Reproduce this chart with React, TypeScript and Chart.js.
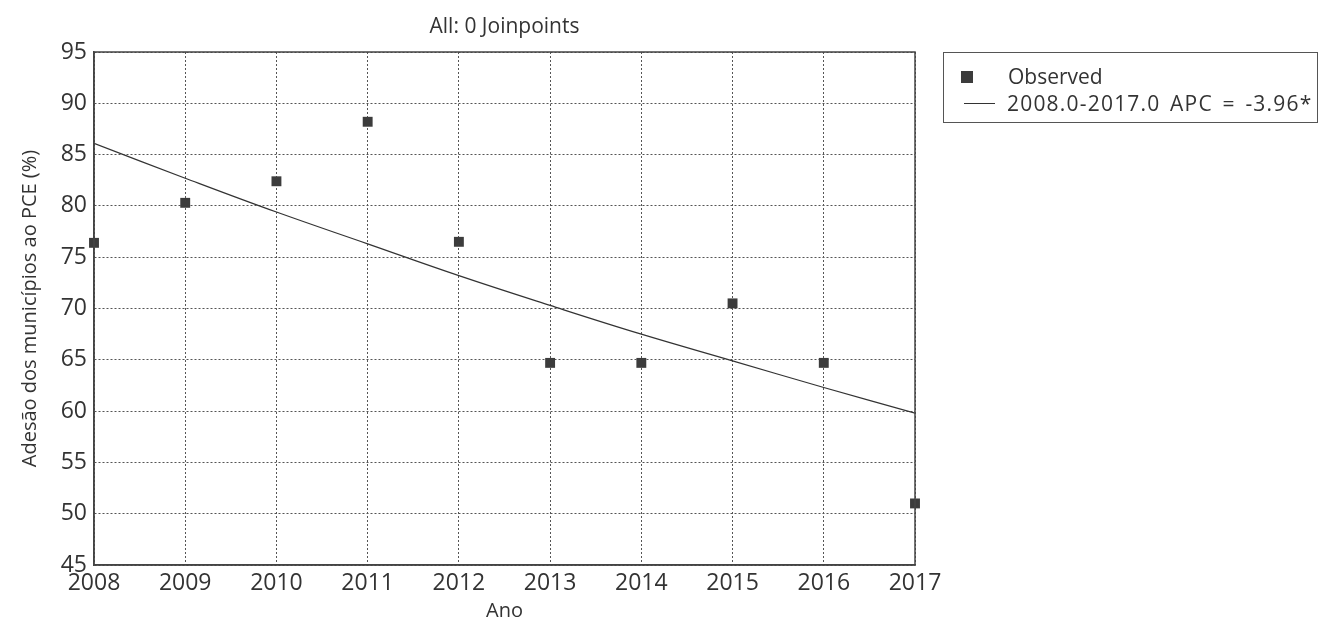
import React, { useEffect, useRef } from "react";
import { Chart, registerables } from "chart.js";

Chart.register(...registerables);

const years = [2008, 2009, 2010, 2011, 2012, 2013, 2014, 2015, 2016, 2017];
const observed = [76.4, 80.3, 82.4, 88.2, 76.5, 64.7, 64.7, 70.5, 64.7, 51.0];
const fitted = [86.1, 82.7, 79.4, 76.3, 73.2, 70.3, 67.5, 64.9, 62.3, 59.8];
const yTicks = [45, 50, 55, 60, 65, 70, 75, 80, 85, 90, 95];

const chartTitle = "All: 0 Joinpoints";
const xTitle = "Ano";
const yTitle = "Adesão dos municípios ao PCE (%)";
const observedLabel = "Observed";
const fittedLabel = "2008.0-2017.0 APC = -3.96*";

const FONT = "'Open Sans', 'DejaVu Sans', sans-serif";
const TEXT = "#333333";

const frame = {
  id: "frame",
  afterDatasetsDraw(chart: any) {
    const { ctx, chartArea } = chart;
    ctx.save();
    ctx.strokeStyle = "#444";
    ctx.lineWidth = 1.5;
    ctx.strokeRect(chartArea.left, chartArea.top, chartArea.right - chartArea.left, chartArea.bottom - chartArea.top);
    ctx.fillStyle = TEXT;
    ctx.font = `21px ${FONT}`;
    ctx.textAlign = "center";
    ctx.textBaseline = "middle";
    ctx.fillText(chartTitle, (chartArea.left + chartArea.right) / 2, 27);
    ctx.restore();
  },
};

export default function App() {
  const ref = useRef<HTMLCanvasElement>(null);
  useEffect(() => {
    if (!ref.current) return;
    const chart = new Chart(ref.current, {
      type: "scatter",
      data: {
        datasets: [
          {
            label: observedLabel,
            data: years.map((x, i) => ({ x, y: observed[i] })),
            pointStyle: "rect",
            pointRadius: 7,
            backgroundColor: "#3c3c3c",
            borderColor: "#3c3c3c",
            borderWidth: 0,
            showLine: false,
            clip: false,
          },
          {
            label: fittedLabel,
            data: years.map((x, i) => ({ x, y: fitted[i] })),
            showLine: true,
            pointRadius: 0,
            borderColor: "#333",
            borderWidth: 1.2,
            tension: 0.4,
          },
        ],
      },
      options: {
        animation: false,
        responsive: false,
        layout: { padding: { left: 0, right: 412, top: 52, bottom: 0 } },
        plugins: {
          legend: { display: false },
          tooltip: { enabled: false },
          title: { display: false },
        },
        scales: {
          x: {
            type: "linear",
            min: 2008,
            max: 2017,
            afterFit: (s: any) => { s.height = 62; },
            ticks: {
              stepSize: 1,
              color: TEXT,
              padding: 5,
              font: { family: FONT, size: 23 },
              callback: (v: any) => String(v),
            },
            grid: { color: "#555", drawTicks: false, lineWidth: 1 },
            border: { display: true, color: "#444", width: 1.5, dash: [2, 2] } as any,
            title: {
              display: true,
              text: xTitle,
              color: TEXT,
              font: { family: FONT, size: 20, lineHeight: 1.2 },
              padding: { top: 0, bottom: 4 },
            },
          },
          y: {
            min: 45,
            max: 95,
            afterFit: (s: any) => { s.width = 94; },
            afterBuildTicks: (s: any) => { s.ticks = yTicks.map((v) => ({ value: v })); },
            ticks: {
              color: TEXT,
              padding: 7,
              font: { family: FONT, size: 23 },
            },
            grid: { color: "#555", drawTicks: false, lineWidth: 1 },
            border: { display: true, color: "#444", width: 1.5, dash: [2, 2] } as any,
            title: {
              display: true,
              text: yTitle,
              color: TEXT,
              font: { family: FONT, size: 20, lineHeight: 1.2 },
              padding: { top: 18, bottom: 0 },
            },
          },
        },
      },
      plugins: [frame],
    } as any);
    return () => chart.destroy();
  }, []);

  return (
    <div style={{ position: "absolute", left: 0, top: 0, width: 1327, height: 627, background: "#fff" }}>
      <canvas ref={ref} width={1327} height={627} style={{ width: 1327, height: 627, display: "block" }} />
      <div
        style={{
          position: "absolute",
          left: 943,
          top: 52,
          width: 375,
          height: 71,
          border: "1px solid #555",
          boxSizing: "border-box",
          fontFamily: FONT,
          fontSize: 21,
          color: TEXT,
          whiteSpace: "nowrap",
        }}
      >
        <div style={{ position: "absolute", left: 17, top: 18, width: 12, height: 12, background: "#3c3c3c" }} />
        <div style={{ position: "absolute", left: 64, top: 10, lineHeight: "26px" }}>{observedLabel}</div>
        <div style={{ position: "absolute", left: 20, top: 50, width: 31, height: 1, background: "#333" }} />
        <div style={{ position: "absolute", left: 63, top: 37, lineHeight: "26px", letterSpacing: "1.2px", wordSpacing: "3px" }}>{fittedLabel}</div>
      </div>
    </div>
  );
}
